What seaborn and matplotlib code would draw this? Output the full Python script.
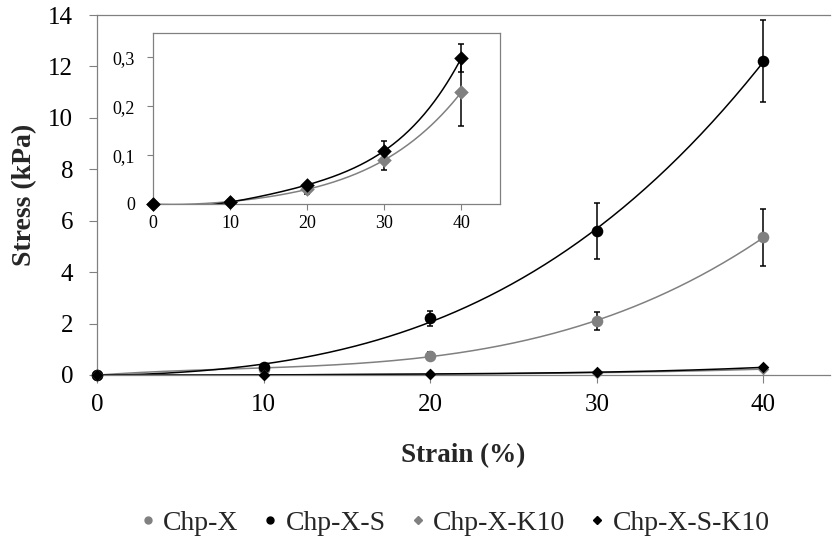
import numpy as np
import pandas as pd
import matplotlib
matplotlib.use("Agg")
import matplotlib.pyplot as plt
import seaborn as sns
from matplotlib.lines import Line2D
from matplotlib.ticker import FuncFormatter

# ---- data ----
strain = [0, 10, 20, 30, 40]
chp_x = [0.0, 0.25, 0.75, 2.1, 5.35]
chp_x_err = [0.0, 0.0, 0.15, 0.35, 1.1]
chp_x_s = [0.0, 0.33, 2.2, 5.6, 12.2]
chp_x_s_err = [0.0, 0.0, 0.3, 1.1, 1.6]
chp_x_k10 = [0.0, 0.005, 0.03, 0.09, 0.229]
chp_x_k10_err = [0.0, 0.0, 0.01, 0.02, 0.07]
chp_x_s_k10 = [0.0, 0.004, 0.039, 0.109, 0.299]
chp_x_s_k10_err = [0.0, 0.0, 0.0, 0.02, 0.028]
series_names = ["Chp-X", "Chp-X-S", "Chp-X-K10", "Chp-X-S-K10"]
main_yticks = [0, 2, 4, 6, 8, 10, 12, 14]
inset_yticks = [0, 0.1, 0.2, 0.3]
xticks = [0, 10, 20, 30, 40]

GREY = "#808080"
series = [
    ("Chp-X", chp_x, chp_x_err, GREY, "o", 3),
    ("Chp-X-S", chp_x_s, chp_x_s_err, "black", "o", 3),
    ("Chp-X-K10", chp_x_k10, chp_x_k10_err, GREY, "D", 4),
    ("Chp-X-S-K10", chp_x_s_k10, chp_x_s_k10_err, "black", "D", 4),
]

sns.set_style("white")
plt.rcParams["font.family"] = ["Liberation Serif", "DejaVu Serif"]

fig = plt.figure(figsize=(8.33, 5.46), dpi=100)
ax = fig.add_axes([0.1164, 0.3132, 0.88, 0.6593])
axi = fig.add_axes([0.1837, 0.6264, 0.4165, 0.3132])

xs = np.linspace(0, 40, 300)


def draw(a, items, ms_circle, ms_diamond):
    for name, vals, errs, col, mk, deg in items:
        coef = np.polyfit(strain, vals, deg)
        fit = pd.DataFrame({"x": xs, "y": np.polyval(coef, xs)})
        sns.lineplot(data=fit, x="x", y="y", ax=a, color=col, lw=1.1,
                     legend=False, zorder=2)
        a.errorbar(strain, vals, yerr=errs, fmt="none", ecolor="black",
                   elinewidth=1.1, capsize=2.5, capthick=1.1, zorder=3)
        df = pd.DataFrame({"x": strain, "y": vals})
        ms = ms_circle if mk == "o" else ms_diamond
        sns.scatterplot(data=df, x="x", y="y", ax=a, color=col, marker=mk,
                        s=ms, edgecolor=col, linewidth=0, zorder=4,
                        clip_on=False, legend=False)


draw(ax, series, 70, 35)
draw(axi, [s for s in series if "K10" in s[0]], 55, 55)

# main axes styling
ax.set_xlim(0, 44)
ax.set_ylim(0, 14)
ax.set_xticks(xticks)
ax.set_yticks(main_yticks)
ax.tick_params(axis="both", labelsize=18, length=6, width=0.8,
               colors="#808080", labelcolor="black", direction="out",
               bottom=True, left=True)
ax.tick_params(axis="x", pad=8)
ax.tick_params(axis="y", pad=11)
ax.set_xlabel("Strain (%)", fontsize=19.5, fontweight="bold", labelpad=19)
ax.set_ylabel("Stress (kPa)", fontsize=20, fontweight="bold", labelpad=8)
for side in ["left", "bottom", "top"]:
    ax.spines[side].set_color("#808080")
    ax.spines[side].set_linewidth(0.9)
ax.spines["right"].set_visible(False)

# inset styling
axi.set_xlim(0, 45)
axi.set_ylim(0, 0.35)
axi.set_xticks(xticks)
axi.set_yticks(inset_yticks)
axi.yaxis.set_major_formatter(FuncFormatter(
    lambda v, p: "0" if abs(v) < 1e-9 else f"{v:.1f}".replace(".", ",")))
axi.tick_params(axis="both", labelsize=13, length=4, width=0.8,
                colors="#808080", labelcolor="black", direction="out",
                bottom=True, left=True)
axi.tick_params(axis="y", pad=9)
axi.tick_params(axis="x", pad=4)
axi.set_xlabel("")
axi.set_ylabel("")
for side in axi.spines:
    axi.spines[side].set_color("#808080")
    axi.spines[side].set_linewidth(0.9)
axi.set_facecolor("white")

# legend
handles = [
    Line2D([], [], ls="none", marker="o", color=GREY, markersize=5),
    Line2D([], [], ls="none", marker="o", color="black", markersize=5),
    Line2D([], [], ls="none", marker="D", color=GREY, markersize=4),
    Line2D([], [], ls="none", marker="D", color="black", markersize=4),
]
fig.legend(handles, series_names, loc="center", bbox_to_anchor=(0.544, 0.042),
           ncol=4, frameon=False, fontsize=20, handletextpad=0.15,
           columnspacing=0.75, handlelength=0.8)

fig.savefig("out.png", dpi=100)
